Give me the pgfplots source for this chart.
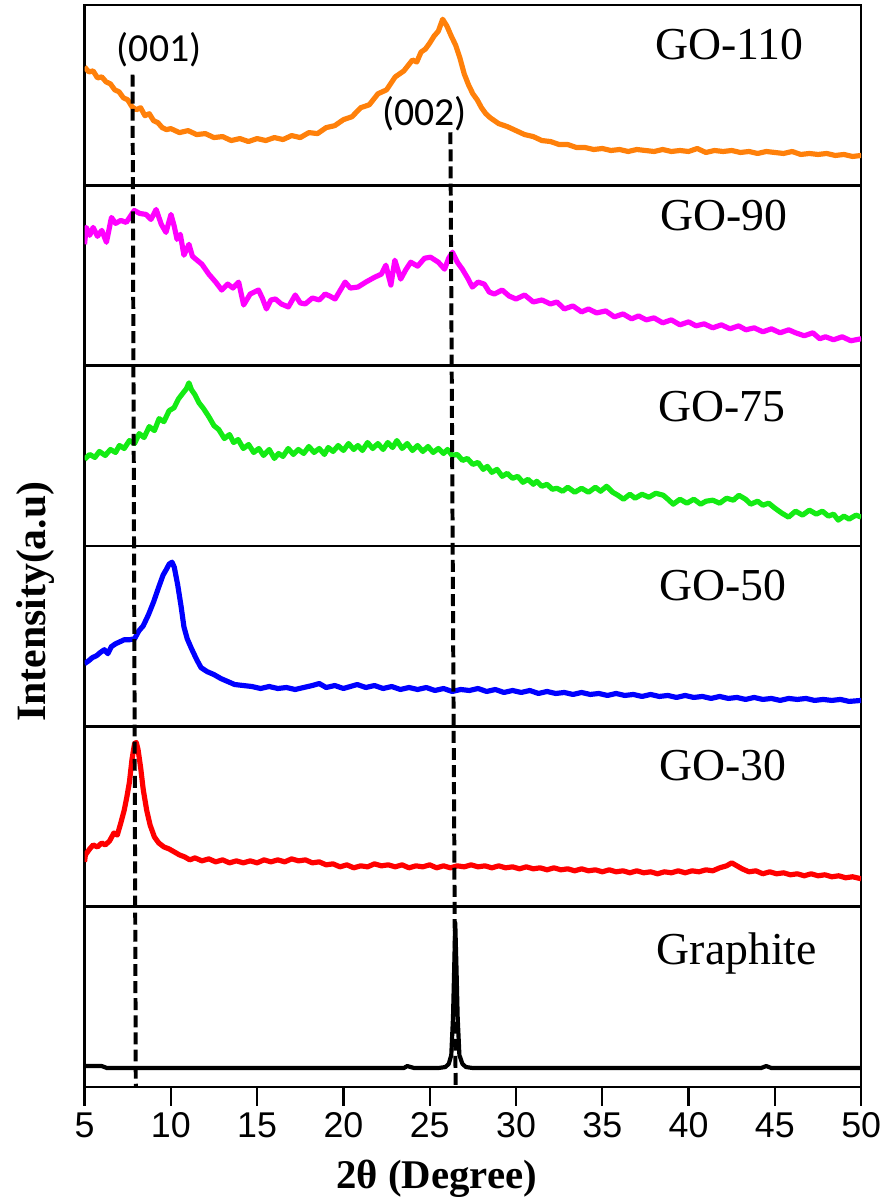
\documentclass[border=0pt]{standalone}
\usepackage{fontspec}
\setmainfont{Liberation Serif}
\newfontfamily\ticksf{Liberation Sans}
\newfontfamily\calibri{Carlito}
\usepackage{pgfplots}
\pgfplotsset{compat=1.18}

\definecolor{cgo110}{RGB}{255,128,10}
\definecolor{cgo90}{RGB}{255,0,255}
\definecolor{cgo75}{RGB}{20,235,20}
\definecolor{cgo50}{RGB}{0,0,255}
\definecolor{cgo30}{RGB}{255,0,0}

\pgfplotsset{
  panel/.style={
    scale only axis, width=390.5pt, height=90.667pt,
    xmin=5, xmax=50, ymin=0, ymax=181.33,
    xtick=\empty, ytick=\empty,
    axis line style={line width=1.3pt},
    clip mode=individual,
    anchor=south west,
  },
  curve/.style={line width=2.6pt, line join=round},
}
\tikzset{lab/.style={anchor=base, font=\fontsize{23}{23}\selectfont}}

\begin{document}
\begin{tikzpicture}

% GO-110
\begin{axis}[panel, at={(0pt,453.33pt)}]
\addplot[curve, cgo110] coordinates {
(5.0,119) (5.25,114) (5.5,115) (5.75,108) (6.0,109) (6.25,104) (6.5,102) (6.75,96) (7.0,94) (7.25,88) (7.5,86) (7.75,79) (8.0,76) (8.25,78) (8.5,70) (8.75,72) (9.0,65) (9.25,63) (9.5,58) (9.75,56) (10.0,57) (10.5,53) (11.0,55) (11.5,51) (12.0,52) (12.5,48) (13.0,49) (13.5,45) (14.0,47) (14.5,44) (15.0,47) (15.5,45) (16.0,48) (16.5,46) (17.0,50) (17.5,48) (18.0,53) (18.5,52) (19.0,58) (19.5,60) (20.0,66) (20.5,69) (21.0,78) (21.5,81) (22.0,92) (22.5,96) (23.0,109) (23.5,115) (24.0,126) (24.25,124) (24.5,134) (24.75,137) (25.0,143) (25.25,150) (25.5,155) (25.75,167) (26.0,160) (26.25,150) (26.5,141) (26.75,128) (27.0,112) (27.25,101) (27.5,92) (27.75,86) (28.0,78) (28.25,72) (28.5,68) (29.0,62) (29.5,59) (30.0,55) (30.5,51) (31.0,49) (31.5,45) (32.0,44) (32.5,41) (33.0,41) (33.5,38) (34.0,38) (34.5,36) (35.0,37) (35.5,35) (36.0,36) (36.5,34) (37.0,36) (37.5,35) (38.0,34) (38.5,36) (39.0,34) (39.5,35) (40.0,34) (40.5,37) (41.0,33) (41.5,35) (42.0,34) (42.5,35) (43.0,33) (43.5,34) (44.0,32) (44.5,34) (45.0,33) (45.5,32) (46.0,34) (46.5,31) (47.0,32) (47.5,31) (48.0,32) (48.5,30) (49.0,31) (49.5,29) (50.0,30)
};
\node[lab] at (rel axis cs:0.830,0.695) {GO-110};
\end{axis}

% GO-90
\begin{axis}[panel, at={(0pt,362.67pt)}]
\addplot[curve, cgo90] coordinates {
(5.0,122) (5.1,139) (5.3,131) (5.5,139) (5.75,130) (6.0,136) (6.27,124) (6.56,149) (6.8,143) (7.1,146) (7.42,144) (7.65,150) (7.88,156) (8.2,153) (8.57,152) (8.85,147) (9.15,157) (9.45,142) (9.72,134) (10.01,152) (10.2,140) (10.36,127) (10.55,132) (10.76,111) (11.05,122) (11.25,110) (11.45,107) (11.8,102) (12.2,92) (12.6,84) (12.95,76) (13.3,82) (13.6,78) (13.93,84) (14.22,61) (14.6,72) (15.08,76) (15.3,68) (15.54,57) (15.8,66) (16.06,67) (16.4,62) (16.81,59) (17.21,71) (17.5,63) (17.79,62) (18.2,68) (18.6,66) (18.94,72) (19.2,70) (19.52,67) (20.1,84) (20.4,78) (20.84,79) (21.3,84) (21.82,89) (22.2,92) (22.46,101) (22.75,81) (22.98,106) (23.32,87) (23.6,96) (23.9,104) (24.3,100) (24.7,108) (25.05,109) (25.5,104) (25.86,97) (26.1,108) (26.32,114) (26.6,104) (26.89,97) (27.2,88) (27.47,79) (27.8,84) (28.16,82) (28.45,74) (28.74,72) (29.2,76) (29.6,70) (30.0,67) (30.5,71) (31.0,64) (31.5,66) (32.0,62) (32.37,64) (32.8,57) (33.3,60) (33.8,54) (34.2,57) (34.67,53) (35.2,55) (35.7,49) (36.2,52) (36.7,47) (37.1,50) (37.55,46) (38.0,48) (38.5,43) (39.0,46) (39.5,41) (40.0,44) (40.43,40) (40.9,42) (41.4,38) (41.9,41) (42.4,37) (42.9,40) (43.32,36) (43.8,38) (44.3,34) (44.8,37) (45.3,33) (45.8,36) (46.2,33) (46.7,30) (47.2,33) (47.6,27) (47.93,29) (48.4,26) (48.9,29) (49.4,25) (50.0,27)
};
\node[lab] at (rel axis cs:0.823,0.750) {GO-90};
\end{axis}

% GO-75
\begin{axis}[panel, at={(0pt,272pt)}]
\addplot[curve, cgo75] coordinates {
(5.0,87) (5.3,92) (5.6,89) (5.86,95) (6.2,91) (6.5,97) (6.8,94) (7.02,101) (7.3,98) (7.6,106) (7.9,103) (8.17,113) (8.45,109) (8.75,120) (9.05,116) (9.32,128) (9.6,125) (9.9,136) (10.19,139) (10.45,148) (10.76,155) (10.9,158) (11.05,164) (11.2,157) (11.4,152) (11.63,144) (11.9,138) (12.2,130) (12.5,121) (12.78,117) (13.1,108) (13.4,112) (13.64,104) (13.9,107) (14.2,98) (14.51,102) (14.8,94) (15.1,98) (15.37,91) (15.7,97) (16.0,88) (16.24,93) (16.5,90) (16.8,98) (17.1,92) (17.39,97) (17.7,93) (18.0,100) (18.3,94) (18.6,98) (18.9,92) (19.12,99) (19.4,95) (19.7,101) (20.0,96) (20.3,103) (20.6,97) (20.84,101) (21.1,96) (21.4,104) (21.7,98) (22.0,103) (22.3,97) (22.57,104) (22.85,99) (23.1,106) (23.4,98) (23.7,103) (24.0,96) (24.3,101) (24.6,95) (24.9,100) (25.2,94) (25.5,98) (25.8,93) (26.03,97) (26.3,91) (26.6,92) (26.9,86) (27.18,88) (27.5,82) (27.8,84) (28.1,77) (28.34,80) (28.6,74) (28.9,77) (29.2,70) (29.49,73) (29.8,68) (30.1,70) (30.4,64) (30.7,67) (31.0,62) (31.2,65) (31.5,60) (31.8,62) (32.1,57) (32.37,58) (32.7,55) (33.0,59) (33.4,54) (33.8,58) (34.2,54) (34.6,59) (34.9,55) (35.25,60) (35.6,54) (35.9,51) (36.23,47) (36.6,52) (36.9,48) (37.3,52) (37.7,49) (38.1,53) (38.53,51) (38.8,47) (39.11,42) (39.5,47) (39.9,43) (40.3,47) (40.7,42) (41.01,45) (41.4,46) (41.8,43) (42.2,48) (42.6,46) (42.91,51) (43.3,47) (43.6,42) (44.0,45) (44.3,41) (44.64,43) (45.0,38) (45.4,33) (45.79,29) (46.2,35) (46.6,31) (47.0,36) (47.4,32) (47.75,35) (48.1,30) (48.4,32) (48.67,26) (49.0,30) (49.3,27) (49.7,31) (50.0,29)
};
\node[lab] at (rel axis cs:0.821,0.690) {GO-75};
\end{axis}

% GO-50
\begin{axis}[panel, at={(0pt,181.33pt)}]
\addplot[curve, cgo50] coordinates {
(5.0,63) (5.25,66) (5.45,69) (5.7,71) (5.9,74) (6.15,77) (6.35,73) (6.55,80) (6.8,83) (7.05,85) (7.3,87) (7.6,87) (7.9,88) (8.15,96) (8.4,101) (8.7,112) (9.0,125) (9.3,140) (9.55,152) (9.75,158) (9.9,163) (10.07,165) (10.2,160) (10.4,142) (10.6,120) (10.76,100) (10.95,88) (11.2,78) (11.5,67) (11.75,59) (12.1,55) (12.5,52) (12.9,48) (13.3,45) (13.7,42) (14.2,41) (14.7,40) (15.2,38) (15.7,40) (16.2,38) (16.7,39) (17.2,37) (17.7,39) (18.2,41) (18.6,43) (19.0,39) (19.5,41) (20.0,38) (20.4,40) (20.8,42) (21.3,39) (21.8,41) (22.3,38) (22.8,40) (23.3,37) (23.8,39) (24.3,37) (24.8,39) (25.3,36) (25.8,38) (26.3,35) (26.8,37) (27.3,36) (27.8,38) (28.3,35) (28.8,37) (29.3,34) (29.8,36) (30.3,34) (30.8,36) (31.3,33) (31.8,35) (32.3,33) (32.8,34) (33.3,32) (33.8,34) (34.3,32) (34.8,33) (35.3,31) (35.8,33) (36.3,31) (36.8,32) (37.3,30) (37.8,32) (38.3,30) (38.8,31) (39.3,29) (39.8,31) (40.3,29) (40.8,30) (41.3,28) (41.8,30) (42.3,28) (42.8,29) (43.3,27) (43.8,29) (44.3,27) (44.8,28) (45.3,26) (45.8,28) (46.3,27) (46.8,28) (47.3,26) (47.8,27) (48.3,26) (48.8,27) (49.3,25) (50.0,26)
};
\node[lab] at (rel axis cs:0.822,0.695) {GO-50};
\end{axis}

% GO-30
\begin{axis}[panel, at={(0pt,90.667pt)}]
\addplot[curve, cgo30] coordinates {
(5.0,45) (5.05,52) (5.3,58) (5.5,62) (5.75,60) (6.0,64) (6.2,62) (6.45,66) (6.7,74) (6.9,72) (7.1,84) (7.3,97) (7.45,110) (7.6,125) (7.75,148) (7.9,164) (8.0,165) (8.1,158) (8.25,140) (8.4,118) (8.6,97) (8.8,82) (9.05,70) (9.3,64) (9.6,60) (9.9,58) (10.2,55) (10.5,52) (10.8,50) (11.1,47) (11.4,49) (11.8,46) (12.2,48) (12.6,45) (13.0,47) (13.4,44) (13.8,46) (14.2,44) (14.6,46) (15.0,44) (15.4,47) (15.8,45) (16.2,47) (16.6,45) (17.0,48) (17.4,46) (17.8,47) (18.2,44) (18.6,45) (19.0,42) (19.4,43) (19.8,40) (20.2,42) (20.6,39) (21.0,41) (21.4,40) (21.8,43) (22.2,41) (22.6,42) (23.0,40) (23.4,42) (23.8,39) (24.2,41) (24.6,40) (25.0,42) (25.4,39) (25.8,41) (26.2,39) (26.6,41) (27.0,40) (27.4,42) (27.8,40) (28.2,41) (28.6,39) (29.0,41) (29.4,39) (29.8,40) (30.2,38) (30.6,40) (31.0,38) (31.4,39) (31.8,37) (32.2,39) (32.6,37) (33.0,38) (33.4,36) (33.8,38) (34.2,36) (34.6,37) (35.0,35) (35.4,37) (35.8,35) (36.2,36) (36.6,34) (37.0,36) (37.4,34) (37.8,35) (38.2,33) (38.6,35) (39.0,34) (39.4,36) (39.8,34) (40.2,36) (40.6,35) (41.0,37) (41.4,36) (41.8,39) (42.2,41) (42.5,44) (42.8,41) (43.1,38) (43.5,35) (43.9,36) (44.3,33) (44.7,35) (45.1,33) (45.5,34) (45.9,32) (46.3,33) (46.7,31) (47.1,33) (47.5,31) (47.9,32) (48.3,30) (48.7,31) (49.1,29) (49.5,30) (50.0,28)
};
\node[lab] at (rel axis cs:0.822,0.700) {GO-30};
\end{axis}

% Graphite
\begin{axis}[panel, at={(0pt,0pt)},
  xtick={5,10,...,50}, tick align=outside, xtick pos=bottom,
  major tick length=9.5pt, tick style={line width=1.2pt, black},
  xticklabel style={font=\ticksf\fontsize{18}{18}\selectfont},
  /pgf/number format/assume math mode=true]
\addplot[line width=2.1pt, black, line join=round] coordinates {
(5.0,21) (6.0,21) (6.3,19) (8.0,19) (10.0,19) (12.0,19) (14.0,19) (16.0,19) (18.0,19) (20.0,19) (22.0,19) (23.5,19) (23.7,21) (23.9,20) (24.1,19) (25.5,19) (25.9,20) (26.1,23) (26.25,32) (26.35,70) (26.42,120) (26.48,165) (26.55,120) (26.62,70) (26.72,32) (26.9,23) (27.1,20) (27.5,19) (28.5,19) (35.0,19) (40.0,19) (44.2,19) (44.5,21) (44.8,19) (50.0,19)
};
\node[lab] at (rel axis cs:0.840,0.680) {Graphite};
\end{axis}

% overlay: reference lines and axis titles
\begin{axis}[scale only axis, width=390.5pt, height=544pt,
  xmin=5, xmax=50, ymin=0, ymax=1088,
  hide axis, clip=false, anchor=south west, at={(0pt,0pt)}]
\addplot[black, line width=2pt, dash pattern=on 6pt off 2.6pt] coordinates {(7.78,1018) (7.97,0)};
\addplot[black, line width=2pt, dash pattern=on 6pt off 2.6pt] coordinates {(26.2,960) (26.5,0)};
\node[font=\calibri\fontsize{20}{20}\selectfont] at (axis cs:9.32,1043) {(001)};
\node[font=\calibri\fontsize{20}{20}\selectfont] at (axis cs:24.71,979) {(002)};
\node[anchor=base, font=\bfseries\fontsize{20.5}{20.5}\selectfont] at (axis cs:25.4,-102) {2θ (Degree)};
\node[rotate=90, anchor=base, font=\bfseries\fontsize{21}{21}\selectfont] at (axis cs:2.75,488) {Intensity(a.u)};
\end{axis}

\path (-42.5pt,-55.5pt) rectangle (403.5pt,546.5pt);
\end{tikzpicture}
\end{document}
